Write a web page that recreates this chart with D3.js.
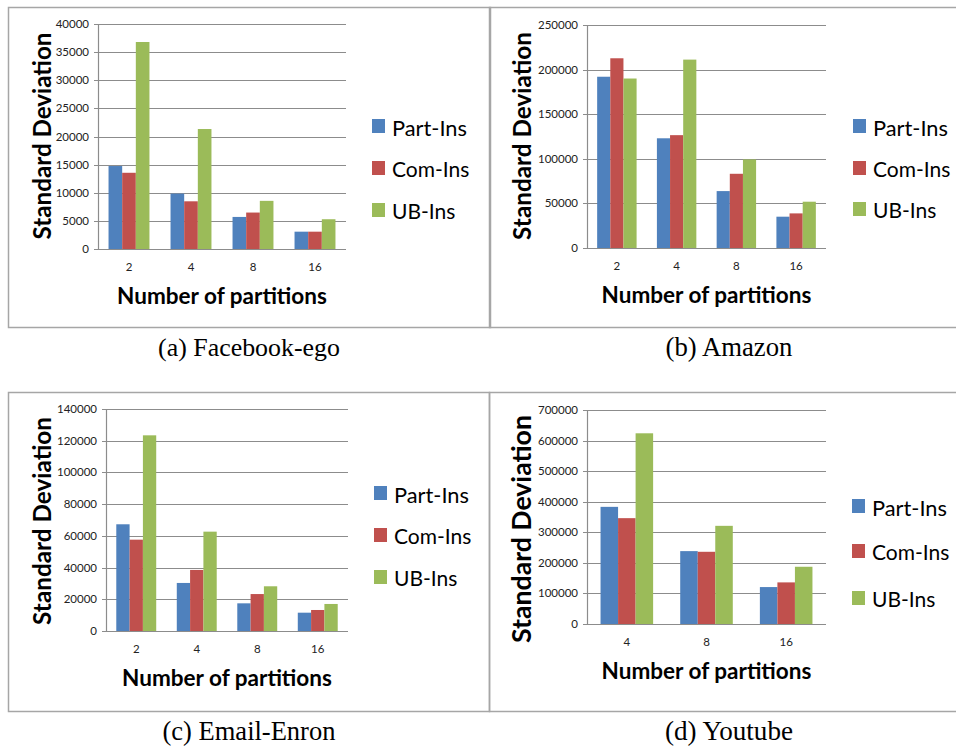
<!DOCTYPE html>
<html>
<head>
<meta charset="utf-8">
<script src="https://cdn.jsdelivr.net/npm/d3@7"></script>
<style>
  body { margin: 0; background: #fff; }
  svg { display: block; }
</style>
</head>
<body>
<svg id="chart" width="956" height="748"></svg>
<script>
// series shared by all four panels
var seriesNames = ["Part-Ins", "Com-Ins", "UB-Ins"];
var seriesColors = ["#4f81bd", "#c0504d", "#9bbb59"];

// (a) Facebook-ego
var fbCats = ["2", "4", "8", "16"];
var fbPart = [14750, 9850, 5700, 3080];
var fbCom  = [13550, 8480, 6480, 3080];
var fbUB   = [36800, 21330, 8560, 5290];
var fbTicks = [0, 5000, 10000, 15000, 20000, 25000, 30000, 35000, 40000];

// (b) Amazon
var amCats = ["2", "4", "8", "16"];
var amPart = [192000, 123000, 63800, 35100];
var amCom  = [212700, 126500, 83200, 38800];
var amUB   = [190000, 211200, 99300, 51900];
var amTicks = [0, 50000, 100000, 150000, 200000, 250000];

// (c) Email-Enron
var enCats = ["2", "4", "8", "16"];
var enPart = [67300, 30300, 17450, 11550];
var enCom  = [57600, 38500, 23300, 13250];
var enUB   = [123400, 62650, 28200, 17050];
var enTicks = [0, 20000, 40000, 60000, 80000, 100000, 120000, 140000];

// (d) Youtube
var ytCats = ["4", "8", "16"];
var ytPart = [383200, 238400, 120800];
var ytCom  = [346200, 236200, 136100];
var ytUB   = [623800, 321100, 187200];
var ytTicks = [0, 100000, 200000, 300000, 400000, 500000, 600000, 700000];

var captions = ["(a) Facebook-ego", "(b) Amazon", "(c) Email-Enron", "(d) Youtube"];

var svg = d3.select("#chart");
var sansFont = "Lato, 'Open Sans', sans-serif";

// shrink/grow a text node until it spans the wanted width
function fitWidth(sel, target) {
  var w = sel.node().getComputedTextLength();
  var fs = parseFloat(sel.attr("font-size"));
  sel.attr("font-size", fs * target / w);
}

var panels = [
  {cats: fbCats, vals: [fbPart, fbCom, fbUB], ticks: fbTicks,
   box: [8, 7, 482, 320], x0: 98, x1: 346, yTop: 24, yBot: 249,
   yTitleX: 43, yTitleY: 136, yTitleLen: 207, legX: 372, legY: [126, 168, 210],
   capX: 249, capLen: 182},
  {cats: amCats, vals: [amPart, amCom, amUB], ticks: amTicks,
   box: [489, 7, 480, 320], x0: 587, x1: 826, yTop: 25, yBot: 248,
   yTitleX: 522, yTitleY: 136, yTitleLen: 208, legX: 853, legY: [126, 168, 209],
   capX: 729, capLen: 127},
  {cats: enCats, vals: [enPart, enCom, enUB], ticks: enTicks,
   box: [8, 392, 481, 319], x0: 106, x1: 348, yTop: 409, yBot: 631,
   yTitleX: 42, yTitleY: 521, yTitleLen: 208, legX: 374, legY: [493, 535, 577],
   capX: 249, capLen: 173},
  {cats: ytCats, vals: [ytPart, ytCom, ytUB], ticks: ytTicks,
   box: [489, 392, 480, 319], x0: 587, x1: 826, yTop: 410, yBot: 624,
   yTitleX: 522, yTitleY: 529, yTitleLen: 228, legX: 852, legY: [506, 551, 598],
   capX: 729, capLen: 128}
];

panels.forEach(function(p, pi) {
  var g = svg.append("g");

  g.append("rect")
      .attr("x", p.box[0] + 0.5).attr("y", p.box[1] + 0.5)
      .attr("width", p.box[2]).attr("height", p.box[3])
      .attr("fill", "none")
      .attr("stroke", "#a6a6a6")
      .attr("stroke-width", 1.5);

  var yMax = p.ticks[p.ticks.length - 1];
  var y = d3.scaleLinear().domain([0, yMax]).range([p.yBot, p.yTop]);
  var x = d3.scaleBand().domain(p.cats).range([p.x0, p.x1])
      .paddingInner(0.34).paddingOuter(0.17);
  var xs = d3.scaleBand().domain(d3.range(seriesNames.length)).range([0, x.bandwidth()]);

  // gridlines + small tick marks left of the axis
  g.selectAll(".grid")
      .data(p.ticks)
    .enter().append("line")
      .attr("x1", p.x0 - 4).attr("x2", p.x1)
      .attr("y1", function(d) { return Math.round(y(d)) + 0.5; })
      .attr("y2", function(d) { return Math.round(y(d)) + 0.5; })
      .attr("stroke", "#8c8c8c")
      .attr("stroke-width", 1.2);

  g.append("line")
      .attr("x1", p.x0 + 0.5).attr("x2", p.x0 + 0.5)
      .attr("y1", p.yTop).attr("y2", p.yBot)
      .attr("stroke", "#8c8c8c")
      .attr("stroke-width", 1.2);

  g.selectAll(".ytick")
      .data(p.ticks)
    .enter().append("text")
      .attr("x", p.x0 - 9)
      .attr("y", function(d) { return y(d); })
      .attr("dy", "0.35em")
      .attr("text-anchor", "end")
      .attr("font-family", sansFont)
      .attr("font-size", 11.5)
      .attr("fill", "#222")
      .text(function(d) { return d; });

  g.selectAll(".xtick")
      .data(p.cats)
    .enter().append("text")
      .attr("x", function(d) { return x(d) + x.bandwidth() / 2; })
      .attr("y", p.yBot + 18)
      .attr("dy", "0.35em")
      .attr("text-anchor", "middle")
      .attr("font-family", sansFont)
      .attr("font-size", 11.5)
      .attr("fill", "#222")
      .text(function(d) { return d; });

  // bars
  p.vals.forEach(function(vals, si) {
    g.selectAll(".bar" + si)
        .data(vals)
      .enter().append("rect")
        .attr("x", function(d, i) { return x(p.cats[i]) + xs(si); })
        .attr("width", xs.bandwidth())
        .attr("y", function(d) { return y(d); })
        .attr("height", function(d) { return p.yBot - y(d); })
        .attr("fill", seriesColors[si]);
  });

  // axis titles
  var xt = g.append("text")
      .attr("x", (p.x0 + p.x1) / 2)
      .attr("y", p.yBot + 47)
      .attr("dy", "0.35em")
      .attr("text-anchor", "middle")
      .attr("font-family", sansFont)
      .attr("font-weight", "bold")
      .attr("font-size", 22)
      .attr("fill", "#000")
      .text("Number of partitions");
  fitWidth(xt, 210);

  var yt = g.append("text")
      .attr("transform", "translate(" + p.yTitleX + "," + p.yTitleY + ")rotate(-90)")
      .attr("dy", "0.35em")
      .attr("text-anchor", "middle")
      .attr("font-family", sansFont)
      .attr("font-weight", "bold")
      .attr("font-size", 22)
      .attr("fill", "#000")
      .text("Standard Deviation");
  fitWidth(yt, p.yTitleLen);

  // legend
  var leg = g.selectAll(".leg")
      .data(seriesNames)
    .enter().append("g")
      .attr("transform", function(d, i) { return "translate(" + p.legX + "," + p.legY[i] + ")"; });

  leg.append("rect")
      .attr("x", 0).attr("y", -7)
      .attr("width", 13).attr("height", 14)
      .attr("fill", function(d, i) { return seriesColors[i]; });

  leg.append("text")
      .attr("x", 20)
      .attr("y", 2)
      .attr("dy", "0.35em")
      .attr("font-family", sansFont)
      .attr("font-size", 21)
      .attr("fill", "#000")
      .text(function(d) { return d; })
      .each(function(d, i) { if (i == 0) fitWidth(d3.select(this), 75); });

  // caption under the panel
  var cap = svg.append("text")
      .attr("x", p.capX)
      .attr("y", p.box[1] + p.box[3] + 29)
      .attr("text-anchor", "middle")
      .attr("font-family", "'Liberation Serif', 'DejaVu Serif', serif")
      .attr("font-size", 21)
      .attr("fill", "#000")
      .text(captions[pi]);
  fitWidth(cap, p.capLen);
});
</script>
</body>
</html>
